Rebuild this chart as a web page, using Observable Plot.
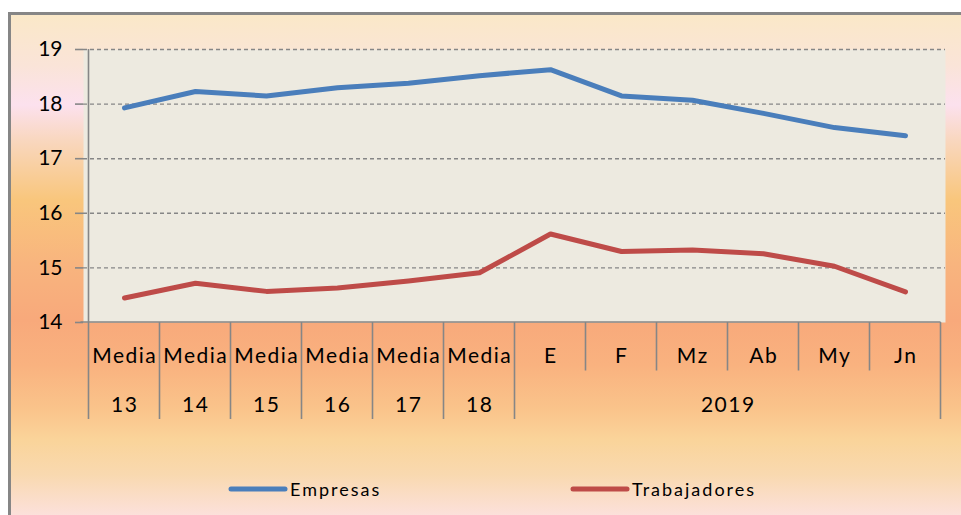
<!DOCTYPE html>
<html>
<head>
<meta charset="utf-8">
<script src="https://cdn.jsdelivr.net/npm/d3@7"></script>
<script src="https://cdn.jsdelivr.net/npm/@observablehq/plot@0.6"></script>
<style>
  html, body { margin: 0; padding: 0; background: #fff; }
  #wrap { position: relative; width: 961px; height: 515px; overflow: hidden; background: #fff; }
  #bg {
    position: absolute; left: 8px; top: 12px; right: 0; bottom: 0;
    border-left: 3px solid #868686; border-top: 3px solid #868686;
    background: linear-gradient(to bottom,
      #FAE8C8 0px, #FAE4D8 50px, #FCE1EE 90px, #F9D7BF 125px,
      #F9C67C 185px, #F8B47E 250px, #F8A97B 305px, #F9B27F 350px,
      #FAC48B 395px, #FAD49A 425px, #F9D9B0 460px, #FCE1DE 503px);
  }
  #chart { position: absolute; left: 0; top: 0; }
</style>
</head>
<body>
<div id="wrap"><div id="bg"></div><div id="chart"></div></div>
<script>
const periods = ["M13","M14","M15","M16","M17","M18","E","F","Mz","Ab","My","Jn"];
const row1Labels = ["Media","Media","Media","Media","Media","Media","E","F","Mz","Ab","My","Jn"];
const groupLabels = ["13","14","15","16","17","18","2019"];
const groupSizes = [1,1,1,1,1,1,6];
const empresas = [17.93,18.23,18.15,18.30,18.38,18.52,18.63,18.15,18.07,17.83,17.57,17.42];
const trabajadores = [14.45,14.72,14.57,14.63,14.76,14.91,15.62,15.30,15.33,15.26,15.03,14.56];
const seriesNames = ["Empresas","Trabajadores"];
const seriesColors = ["#4A7EBB","#BE4B48"];
const yTicks = [14,15,16,17,18,19];

const data = [];
periods.forEach((p,i) => {
  data.push({period: p, series: seriesNames[0], value: empresas[i]});
  data.push({period: p, series: seriesNames[1], value: trabajadores[i]});
});

const FONT = "Lato, 'Open Sans', sans-serif";
const AXIS = "#868686";

function categoryAxis(index, scales, values, dimensions) {
  const x = scales.x, y = scales.y;
  const g = d3.create("svg:g").attr("font-family", FONT).attr("fill", "#000");
  const step = x(periods[1]) - x(periods[0]);
  const left = x(periods[0]) - step/2;
  const right = x(periods[periods.length-1]) + step/2;
  const top = y(yTicks[yTicks.length-1]);
  const base = y(yTicks[0]);
  const rowH = 48.5;
  g.append("line").attr("x1", left).attr("x2", left).attr("y1", top).attr("y2", base)
    .attr("stroke", AXIS).attr("stroke-width", 1.6);
  g.append("line").attr("x1", left - 8).attr("x2", right).attr("y1", base).attr("y2", base)
    .attr("stroke", AXIS).attr("stroke-width", 1.6);
  const groupStart = [];
  let acc = 0;
  groupSizes.forEach(s => { groupStart.push(acc); acc += s; });
  const isGroupEdge = new Set(groupStart.concat([periods.length]));
  for (let k = 0; k <= periods.length; k++) {
    const xx = left + k * step;
    g.append("line").attr("x1", xx).attr("x2", xx).attr("y1", base)
      .attr("y2", base + (isGroupEdge.has(k) ? 2*rowH : rowH))
      .attr("stroke", AXIS).attr("stroke-width", 1.6);
  }
  periods.forEach((p,i) => {
    g.append("text").attr("x", x(p) + 0.75).attr("y", base + 41)
      .attr("text-anchor","middle").attr("letter-spacing", "1.5px")
      .attr("font-size", 21).text(row1Labels[i]);
  });
  groupLabels.forEach((lab,j) => {
    const a = left + groupStart[j]*step, b = a + groupSizes[j]*step;
    g.append("text").attr("x", (a+b)/2 + 0.75).attr("y", base + 90)
      .attr("text-anchor","middle").attr("letter-spacing", "1.5px")
      .attr("font-size", 21).text(lab);
  });
  const legendX = [231, 573];
  seriesNames.forEach((name,i) => {
    const lx = legendX[i], ly = 489;
    g.append("line").attr("x1", lx).attr("x2", lx + 54).attr("y1", ly).attr("y2", ly)
      .attr("stroke", seriesColors[i]).attr("stroke-width", 5).attr("stroke-linecap","round");
    g.append("text").attr("x", lx + 59).attr("y", ly + 6.5).attr("text-anchor","start")
      .attr("letter-spacing", "2px").attr("font-size", 18).text(name);
  });
  return g.node();
}

const chart = Plot.plot({
  width: 961,
  height: 515,
  marginLeft: 83,
  marginRight: 16,
  marginTop: 49,
  marginBottom: 193,
  style: {background: "transparent", fontFamily: FONT, overflow: "visible"},
  x: {type: "point", domain: periods, padding: 0.5, align: 0.5, axis: null},
  y: {domain: [14, 19], axis: null},
  color: {domain: seriesNames, range: seriesColors},
  marks: [
    Plot.frame({fill: "#EDEAE0", stroke: null}),
    Plot.gridY(yTicks.slice(1), {stroke: AXIS, strokeOpacity: 1, strokeWidth: 1.4, strokeDasharray: "4,3"}),
    Plot.axisY(yTicks, {tickSize: 8, tickPadding: 13, tickFormat: "d", stroke: AXIS, strokeWidth: 1.6, fontSize: 21, fill: "#000", label: null}),
    categoryAxis,
    Plot.line(data, {x: "period", y: "value", z: "series", stroke: "series", strokeWidth: 5, strokeLinecap: "round", strokeLinejoin: "round"})
  ]
});
document.getElementById("chart").appendChild(chart);
</script>
</body>
</html>
